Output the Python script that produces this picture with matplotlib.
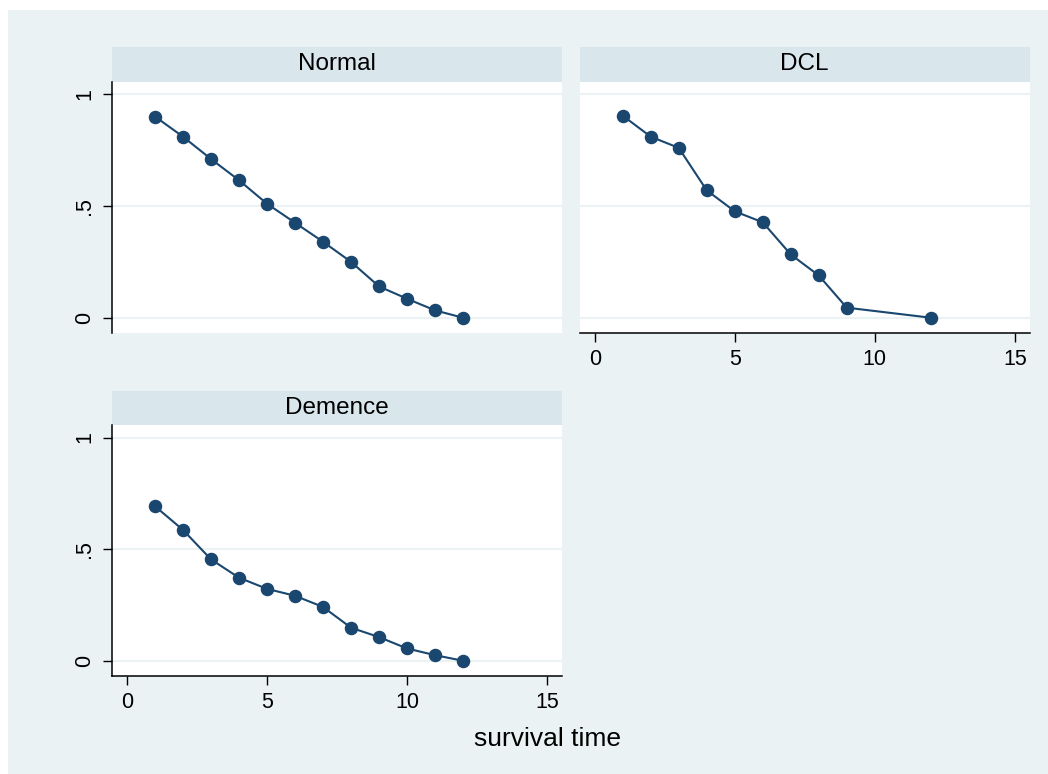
import matplotlib
matplotlib.use("Agg")
import matplotlib.pyplot as plt
from matplotlib.patches import Rectangle

plt.rcParams['font.family'] = ['Liberation Sans', 'DejaVu Sans']

# ---- data ----
groups = ["Normal", "DCL", "Demence"]
time_normal = [1, 2, 3, 4, 5, 6, 7, 8, 9, 10, 11, 12]
surv_normal = [0.90, 0.81, 0.71, 0.615, 0.51, 0.425, 0.34, 0.25, 0.14, 0.085, 0.033, 0.0]
time_dcl = [1, 2, 3, 4, 5, 6, 7, 8, 9, 12]
surv_dcl = [0.904, 0.81, 0.76, 0.57, 0.476, 0.427, 0.283, 0.189, 0.045, 0.0]
time_dem = [1, 2, 3, 4, 5, 6, 7, 8, 9, 10, 11, 12]
surv_dem = [0.692, 0.586, 0.454, 0.372, 0.322, 0.291, 0.241, 0.148, 0.106, 0.055, 0.025, 0.0]
x_ticks = [0, 5, 10, 15]
y_ticks = [0, 0.5, 1]
y_ticklabels = ["0", ".5", "1"]
x_title = "survival time"

W, H = 1048, 774
BG = "#EAF2F3"
STRIP = "#D9E6EB"
NAVY = "#1A476F"
GRID = "#EAF2F3"

fig = plt.figure(figsize=(W / 100, H / 100), dpi=100, facecolor="white")
bgr = Rectangle((8 / W, 0), 1 - 8 / W, 1 - 10 / H, transform=fig.transFigure,
                facecolor=BG, edgecolor="none", zorder=-10)
fig.patches.append(bgr)

def px_axes(l, t, r, b):
    return fig.add_axes([l / W, 1 - b / H, (r - l) / W, (b - t) / H])

def panel(l, t, r, b, strip_t, title, xs, ys, show_y, show_x):
    st = px_axes(l, strip_t, r, t)
    st.set_facecolor(STRIP)
    st.set_xticks([]); st.set_yticks([])
    for s in st.spines.values():
        s.set_visible(False)
    st.text(0.5, 0.5, title, ha="center", va="center", fontsize=17.5, transform=st.transAxes)

    ax = px_axes(l, t, r, b)
    ax.set_facecolor("white")
    ax.set_xlim(-0.525, 15.525)
    ax.set_ylim(-0.067, 1.056)
    for yv in y_ticks:
        ax.axhline(yv, color=GRID, lw=1.5, zorder=1)
    ax.plot(xs, ys, color=NAVY, lw=1.5, marker="o", ms=8.7, mfc=NAVY, mec=NAVY, zorder=3)
    ax.spines["top"].set_visible(False)
    ax.spines["right"].set_visible(False)
    ax.spines["left"].set_visible(show_y)
    ax.spines["bottom"].set_visible(show_x)
    for s in ("left", "bottom"):
        ax.spines[s].set_linewidth(1.1)
        ax.spines[s].set_color("black")
    if show_y:
        ax.set_yticks(y_ticks)
        ax.set_yticklabels(y_ticklabels, rotation=90, va="center", fontsize=15.5)
        ax.tick_params(axis="y", length=6.5, width=1.0, pad=6)
    else:
        ax.set_yticks([])
    if show_x:
        ax.set_xticks(x_ticks)
        ax.set_xticklabels([str(v) for v in x_ticks], fontsize=15.5)
        ax.tick_params(axis="x", length=6.5, width=1.0, pad=5)
    else:
        ax.set_xticks([])
    return ax

panel(112.3, 81.7, 561.7, 332.7, 46.7, groups[0], time_normal, surv_normal, True, False)
panel(580.0, 81.7, 1029.5, 332.7, 46.7, groups[1], time_dcl, surv_dcl, False, True)
panel(112.3, 425.0, 561.7, 675.7, 391.0, groups[2], time_dem, surv_dem, True, True)

fig.text(548 / W, 1 - 739 / H, x_title, ha="center", va="center", fontsize=19)

fig.savefig("out.png", dpi=100, facecolor="white")
